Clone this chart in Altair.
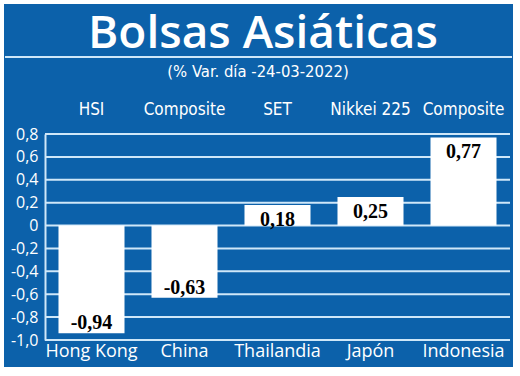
import altair as alt
import pandas as pd

countries = ["Hong Kong", "China", "Thailandia", "Japón", "Indonesia"]
indices = ["HSI", "Composite", "SET", "Nikkei 225", "Composite"]
values = [-0.94, -0.63, 0.18, 0.25, 0.77]
y_ticks = [-1.0, -0.8, -0.6, -0.4, -0.2, 0, 0.2, 0.4, 0.6, 0.8]
title_text = "Bolsas Asiáticas"
subtitle_text = "(% Var. día -24-03-2022)"

BLUE = "#0c61aa"
LINE = "#cfe7f8"
COND = "DejaVu Sans Condensed, Roboto"

df = pd.DataFrame({"country": countries, "index": indices, "value": values})
df["label"] = [("-" if v < 0 else "") + f"{abs(v):.2f}".replace(".", ",") for v in values]
grid_df = pd.DataFrame({"value": y_ticks})

W, H = 465, 206

xscale = alt.Scale(domain=countries, paddingInner=0.29, paddingOuter=0.145)
yscale = alt.Scale(domain=[-1.0, 0.8], nice=False, zero=False)

yaxis = alt.Axis(title=None, values=y_ticks, ticks=False, domain=True,
                 domainColor=LINE, domainWidth=2, grid=False,
                 labelOverlap=False, labelBound=False,
                 labelColor="white", labelFont="Open Sans", labelFontSize=16,
                 labelPadding=7,
                 labelExpr="datum.value == 0 ? '0' : (datum.value < 0 ? '-' : '') + replace(format(abs(datum.value), '.1f'), '.', ',')")
xaxis = alt.Axis(title=None, ticks=False, domain=False, grid=False,
                 labelColor="white", labelFont="Open Sans", labelFontSize=18,
                 labelBaseline="alphabetic", labelPadding=16, labelAngle=0)

deco = alt.Chart(pd.DataFrame({"k": [0]}))

# white margins around the blue panel (canvas background is blue)
m_top = deco.mark_rect(color="white").encode(
    x=alt.value(-50), x2=alt.value(480), y=alt.value(-140), y2=alt.value(-130))
m_bot = deco.mark_rect(color="white").encode(
    x=alt.value(-50), x2=alt.value(480), y=alt.value(233), y2=alt.value(250))
m_left = deco.mark_rect(color="white").encode(
    x=alt.value(-50), x2=alt.value(-41), y=alt.value(-140), y2=alt.value(250))
m_right = deco.mark_rect(color="white").encode(
    x=alt.value(468), x2=alt.value(480), y=alt.value(-140), y2=alt.value(250))

title = deco.mark_text(
    text=title_text, font="Open Sans", fontSize=46, fontWeight=600, color="white",
    align="center", baseline="alphabetic"
).encode(x=alt.value(218), y=alt.value(-86))
tline = deco.mark_rule(color=LINE, strokeWidth=2).encode(
    x=alt.value(-40), x2=alt.value(467), y=alt.value(-77)
)
subtitle = deco.mark_text(
    text=subtitle_text, font=COND, fontSize=16.5, color="white",
    align="center", baseline="alphabetic"
).encode(x=alt.value(213), y=alt.value(-57))

gridlines = alt.Chart(grid_df).mark_rule(color=LINE, strokeWidth=2).encode(
    y=alt.Y("value:Q", scale=yscale, axis=yaxis),
    x=alt.value(0), x2=alt.value(W),
)

base = alt.Chart(df)

bars = base.mark_bar(color="white").encode(
    x=alt.X("country:N", scale=xscale, sort=countries, axis=xaxis),
    y=alt.Y("value:Q", scale=yscale, axis=yaxis),
)

top_labels = base.mark_text(
    font=COND, fontSize=17, color="white", baseline="alphabetic"
).encode(
    x=alt.X("country:N", scale=xscale, sort=countries, axis=xaxis),
    y=alt.value(-19),
    text="index:N",
)

pos_text = base.transform_filter("datum.value >= 0").mark_text(
    font="Liberation Serif", fontWeight="bold", fontSize=20, color="black",
    baseline="top", dy=5
).encode(
    x=alt.X("country:N", scale=xscale, sort=countries, axis=xaxis),
    y=alt.Y("value:Q", scale=yscale, axis=yaxis),
    text="label:N",
)
neg_text = base.transform_filter("datum.value < 0").mark_text(
    font="Liberation Serif", fontWeight="bold", fontSize=20, color="black",
    baseline="alphabetic", dy=-4
).encode(
    x=alt.X("country:N", scale=xscale, sort=countries, axis=xaxis),
    y=alt.Y("value:Q", scale=yscale, axis=yaxis),
    text="label:N",
)

chart = alt.layer(gridlines, bars, m_top, m_bot, m_left, m_right, title, tline, subtitle,
                  top_labels, pos_text, neg_text).properties(
    width=W, height=H,
    autosize=alt.AutoSizeParams(type="none"),
    padding={"left": 45, "top": 134, "right": 10, "bottom": 36},
    background=BLUE,
).configure_view(stroke=None)

chart.save("out.html", embed_options={"renderer": "svg", "actions": False})
